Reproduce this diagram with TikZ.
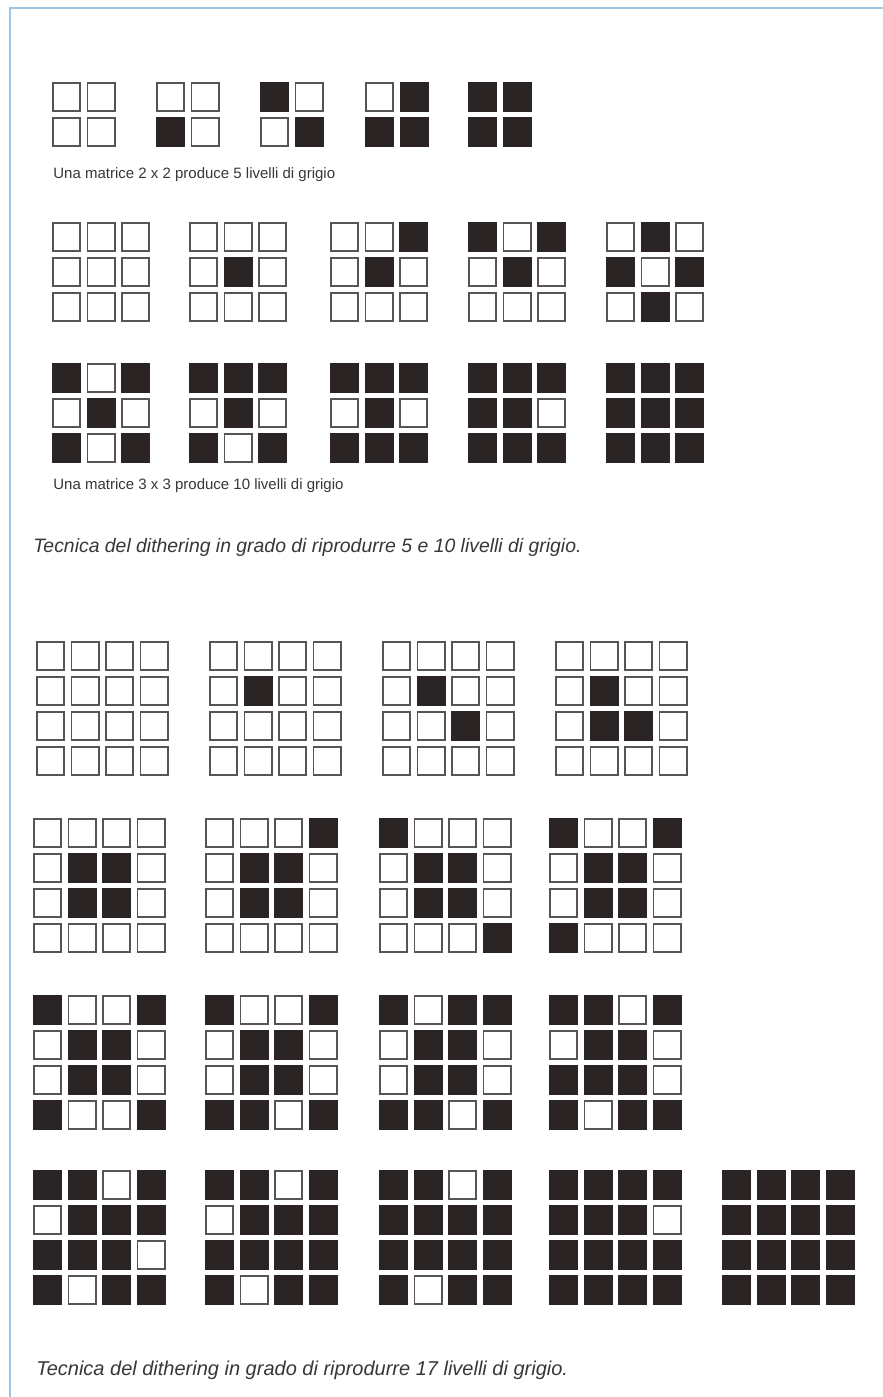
\documentclass[tikz,border=0pt]{standalone}
\usepackage{fontspec}
\setmainfont{Liberation Sans}
\usepackage{tikz}
\definecolor{inkdark}{HTML}{2B2424}
\definecolor{celledge}{HTML}{585454}
\definecolor{frameblue}{HTML}{9DC4E2}
\definecolor{captiongray}{HTML}{3A3636}

% one dithering matrix: top-left x, top-left y, order n, cell values (row by row)
\newcommand{\dithergrid}[4]{%
  \foreach \v [count=\k from 0] in {#4} {
    \pgfmathtruncatemacro{\row}{int(\k/#3)}
    \pgfmathtruncatemacro{\col}{mod(\k,#3)}
    \ifnum\v=1
      \fill[cellon] ({#1+\col*34.5},{#2+\row*35}) rectangle ++(29,30);
    \else
      \draw[celloff] ({#1+\col*34.5+0.8},{#2+\row*35+0.8}) rectangle ++(27.4,28.4);
    \fi
  }%
}

\begin{document}
\begin{tikzpicture}[x=0.5pt,y=-0.5pt,
  cellon/.style={fill=inkdark},
  celloff/.style={draw=celledge,line width=0.8pt,fill=white},
  small caption/.style={anchor=west,inner sep=0pt,text=captiongray,font=\fontsize{7.5}{9}\selectfont},
  big caption/.style={anchor=west,inner sep=0pt,text=captiongray,font=\fontsize{9.7}{11}\selectfont\itshape}]
  \useasboundingbox[fill=white] (0,0) rectangle (883,1397);
  % frame
  \draw[frameblue,line width=1pt] (883,8) -- (10,8) -- (10,1397);

  % 2 x 2
  \dithergrid{52}{82}{2}{0,0,0,0}
  \dithergrid{156}{82}{2}{0,0,1,0}
  \dithergrid{260}{82}{2}{1,0,0,1}
  \dithergrid{365}{82}{2}{0,1,1,1}
  \dithergrid{468}{82}{2}{1,1,1,1}
  \node[small caption] (cap2) at (53,175) {Una matrice 2 x 2 produce 5 livelli di grigio};

  % 3 x 3
  \dithergrid{52}{222}{3}{0,0,0,0,0,0,0,0,0}
  \dithergrid{189}{222}{3}{0,0,0,0,1,0,0,0,0}
  \dithergrid{330}{222}{3}{0,0,1,0,1,0,0,0,0}
  \dithergrid{468}{222}{3}{1,0,1,0,1,0,0,0,0}
  \dithergrid{606}{222}{3}{0,1,0,1,0,1,0,1,0}
  \dithergrid{52}{363}{3}{1,0,1,0,1,0,1,0,1}
  \dithergrid{189}{363}{3}{1,1,1,0,1,0,1,0,1}
  \dithergrid{330}{363}{3}{1,1,1,0,1,0,1,1,1}
  \dithergrid{468}{363}{3}{1,1,1,1,1,0,1,1,1}
  \dithergrid{606}{363}{3}{1,1,1,1,1,1,1,1,1}
  \node[small caption] (cap3) at (53,486) {Una matrice 3 x 3 produce 10 livelli di grigio};

  \node[big caption] (title1) at (33,547) {Tecnica del dithering in grado di riprodurre 5 e 10 livelli di grigio.};

  % 4 x 4
  \dithergrid{36}{641}{4}{0,0,0,0, 0,0,0,0, 0,0,0,0, 0,0,0,0}
  \dithergrid{209}{641}{4}{0,0,0,0, 0,1,0,0, 0,0,0,0, 0,0,0,0}
  \dithergrid{382}{641}{4}{0,0,0,0, 0,1,0,0, 0,0,1,0, 0,0,0,0}
  \dithergrid{555}{641}{4}{0,0,0,0, 0,1,0,0, 0,1,1,0, 0,0,0,0}

  \dithergrid{33}{818}{4}{0,0,0,0, 0,1,1,0, 0,1,1,0, 0,0,0,0}
  \dithergrid{205}{818}{4}{0,0,0,1, 0,1,1,0, 0,1,1,0, 0,0,0,0}
  \dithergrid{379}{818}{4}{1,0,0,0, 0,1,1,0, 0,1,1,0, 0,0,0,1}
  \dithergrid{549}{818}{4}{1,0,0,1, 0,1,1,0, 0,1,1,0, 1,0,0,0}

  \dithergrid{33}{995}{4}{1,0,0,1, 0,1,1,0, 0,1,1,0, 1,0,0,1}
  \dithergrid{205}{995}{4}{1,0,0,1, 0,1,1,0, 0,1,1,0, 1,1,0,1}
  \dithergrid{379}{995}{4}{1,0,1,1, 0,1,1,0, 0,1,1,0, 1,1,0,1}
  \dithergrid{549}{995}{4}{1,1,0,1, 0,1,1,0, 1,1,1,0, 1,0,1,1}

  \dithergrid{33}{1170}{4}{1,1,0,1, 0,1,1,1, 1,1,1,0, 1,0,1,1}
  \dithergrid{205}{1170}{4}{1,1,0,1, 0,1,1,1, 1,1,1,1, 1,0,1,1}
  \dithergrid{379}{1170}{4}{1,1,0,1, 1,1,1,1, 1,1,1,1, 1,0,1,1}
  \dithergrid{549}{1170}{4}{1,1,1,1, 1,1,1,0, 1,1,1,1, 1,1,1,1}
  \dithergrid{722}{1170}{4}{1,1,1,1, 1,1,1,1, 1,1,1,1, 1,1,1,1}

  \node[big caption,font=\fontsize{10}{11}\selectfont\itshape] (title2) at (36,1370) {Tecnica del dithering in grado di riprodurre 17 livelli di grigio.};
\end{tikzpicture}
\end{document}
